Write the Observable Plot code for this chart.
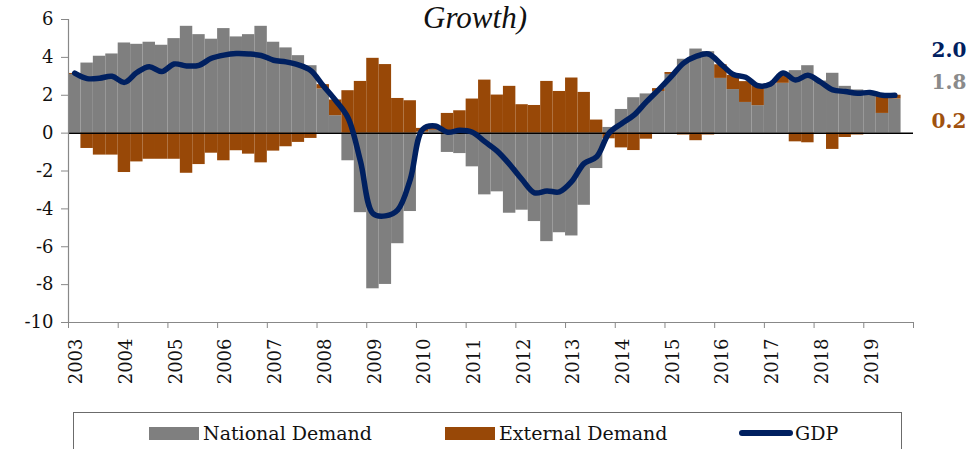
<!DOCTYPE html>
<html><head><meta charset="utf-8">
<script src="https://cdn.jsdelivr.net/npm/d3@7"></script>
<script src="https://cdn.jsdelivr.net/npm/@observablehq/plot@0.6"></script>
<style>
body{margin:0;background:#fff;width:969px;height:449px;overflow:hidden;position:relative;font-family:"DejaVu Serif",serif;}
#chart{position:absolute;left:0;top:0;}
#legend{position:absolute;left:73px;top:412px;width:829px;height:60px;border:1px solid #6b6b6b;box-sizing:border-box;font-size:19px;line-height:22px;color:#111;}
.item{position:absolute;top:9px;display:flex;align-items:center;white-space:nowrap;}
.sw{width:50px;height:13px;margin-right:4px;}
.ln{width:54px;height:6px;border-radius:3px;margin-right:2px;}
</style></head><body>
<div id="chart"></div>
<div id="legend"></div>
<script>
const startYear = 2003;
const yearTicks = [2003,2004,2005,2006,2007,2008,2009,2010,2011,2012,2013,2014,2015,2016,2017,2018,2019,2020];
const yTicks = [-10,-8,-6,-4,-2,0,2,4,6];
const seriesNames = ["National Demand","External Demand","GDP"];
const seriesColors = ["#7f7f7f","#984807","#002060"];
const titleText = ["Growth)"];

const nationalDemand = [3.10,3.70,4.06,4.18,4.76,4.69,4.80,4.64,4.99,5.64,5.20,4.96,5.52,5.08,5.20,5.64,
  4.80,4.50,4.09,3.56,2.33,0.92,-1.46,-4.20,-8.22,-7.99,-5.84,-4.14,0.05,0.15,-1.02,-1.08,
  -1.78,-3.26,-3.10,-4.23,-4.07,-4.67,-5.73,-5.26,-5.43,-3.81,-1.87,0.30,1.25,1.87,2.07,2.20,
  3.10,3.90,4.44,4.30,2.89,2.30,1.62,1.45,2.56,2.63,3.30,3.56,2.75,3.16,2.47,2.28,2.15,1.04,1.80];
const externalDemand = [0.05,-0.81,-1.16,-1.16,-2.08,-1.52,-1.38,-1.38,-1.38,-2.12,-1.66,-1.06,-1.46,-0.93,-1.11,-1.57,
  -0.95,-0.72,-0.49,-0.28,0.23,0.83,2.24,2.73,3.95,3.62,1.83,1.71,0.20,0.20,1.04,1.18,
  1.80,2.80,2.01,2.47,1.50,1.46,2.73,2.20,2.91,2.15,0.69,-0.30,-0.78,-0.92,-0.32,0.15,
  0.10,-0.10,-0.40,-0.10,0.72,0.75,1.10,1.05,0.03,0.40,-0.46,-0.51,0.00,-0.86,-0.23,-0.10,0.00,0.94,0.20];
const gdp = [3.17,2.88,2.90,3.00,2.68,3.20,3.50,3.25,3.65,3.55,3.58,3.95,4.12,4.20,4.18,4.10,
  3.85,3.76,3.60,3.30,2.50,1.72,0.80,-1.50,-4.25,-4.37,-4.05,-2.45,0.20,0.38,0.05,0.15,
  0.05,-0.45,-0.95,-1.65,-2.45,-3.15,-3.05,-3.10,-2.55,-1.60,-1.25,0.00,0.50,0.95,1.65,2.30,
  2.98,3.70,4.05,4.18,3.65,3.10,2.95,2.50,2.60,3.17,2.80,3.05,2.70,2.28,2.20,2.10,2.15,2.00,2.00];

const qt = i => startYear + i / 4;
const bars = [
  ...nationalDemand.map((v, i) => ({t: qt(i), t2: qt(i) + 0.25, v, s: seriesNames[0]})),
  ...externalDemand.map((v, i) => ({t: qt(i), t2: qt(i) + 0.25, v, s: seriesNames[1]}))
];
const line = gdp.map((v, i) => ({t: qt(i) + 0.125, v}));
const n = gdp.length - 1;
const endLabels = [
  {text: gdp[n].toFixed(1), color: seriesColors[2], dy: 31},
  {text: nationalDemand[n].toFixed(1), color: "#8a8a8a", dy: 63},
  {text: externalDemand[n].toFixed(1), color: "#a0520f", dy: 102}
];

const chart = Plot.plot({
  width: 969, height: 405,
  marginLeft: 68, marginRight: 56, marginTop: 19, marginBottom: 83,
  style: {fontFamily: "DejaVu Serif", fontSize: "18px", background: "transparent", overflow: "visible"},
  x: {domain: [2003, 2020], label: null},
  y: {domain: [-10, 6], label: null},
  color: {domain: seriesNames.slice(0, 2), range: seriesColors.slice(0, 2)},
  marks: [
    Plot.rectY(bars, {x1: "t", x2: "t2", y: "v", fill: "s", inset: 0}),
    Plot.ruleY([0], {stroke: "#000", strokeWidth: 1.5}),
    Plot.ruleX([2003], {stroke: "#888", strokeWidth: 1.2}),
    Plot.ruleY([-10], {stroke: "#888", strokeWidth: 1.2}),
    Plot.axisY({ticks: yTicks, tickFormat: d => String(d), tickSize: 7, tickPadding: 8, fontSize: 18, stroke: "#888", fill: "#111", label: null}),
    Plot.axisX({ticks: yearTicks, tickFormat: () => "", tickSize: 6, stroke: "#888", label: null}),
    Plot.axisX({ticks: yearTicks.slice(0, -1), tickFormat: d => String(d), tickRotate: -90, tickSize: 0, tickPadding: 16, dx: 8, fontSize: 18, fill: "#111", label: null}),
    Plot.line(line, {x: "t", y: "v", stroke: seriesColors[2], strokeWidth: 5.5, curve: "catmull-rom", strokeLinecap: "round", strokeLinejoin: "round"}),
    Plot.text(titleText, {text: d => d, frameAnchor: "top", lineAnchor: "bottom", dx: -16, dy: 8, fontSize: 31, fontStyle: "italic", fontFamily: "Liberation Serif", fill: "#111"}),
    ...endLabels.map(l => Plot.text([l.text], {text: d => d, frameAnchor: "top-right", textAnchor: "start", lineAnchor: "middle", dx: 18, dy: l.dy, fill: l.color, fontWeight: "bold", fontSize: 20}))
  ]
});
document.getElementById("chart").appendChild(chart);

const legend = document.getElementById("legend");
const legendLeft = [75, 371, 665];
seriesNames.forEach((name, i) => {
  const item = document.createElement("div");
  item.className = "item";
  item.style.left = legendLeft[i] + "px";
  const sw = document.createElement("div");
  sw.className = i < 2 ? "sw" : "ln";
  sw.style.background = seriesColors[i];
  const label = document.createElement("span");
  label.textContent = name;
  item.appendChild(sw);
  item.appendChild(label);
  legend.appendChild(item);
});
</script>
</body></html>
